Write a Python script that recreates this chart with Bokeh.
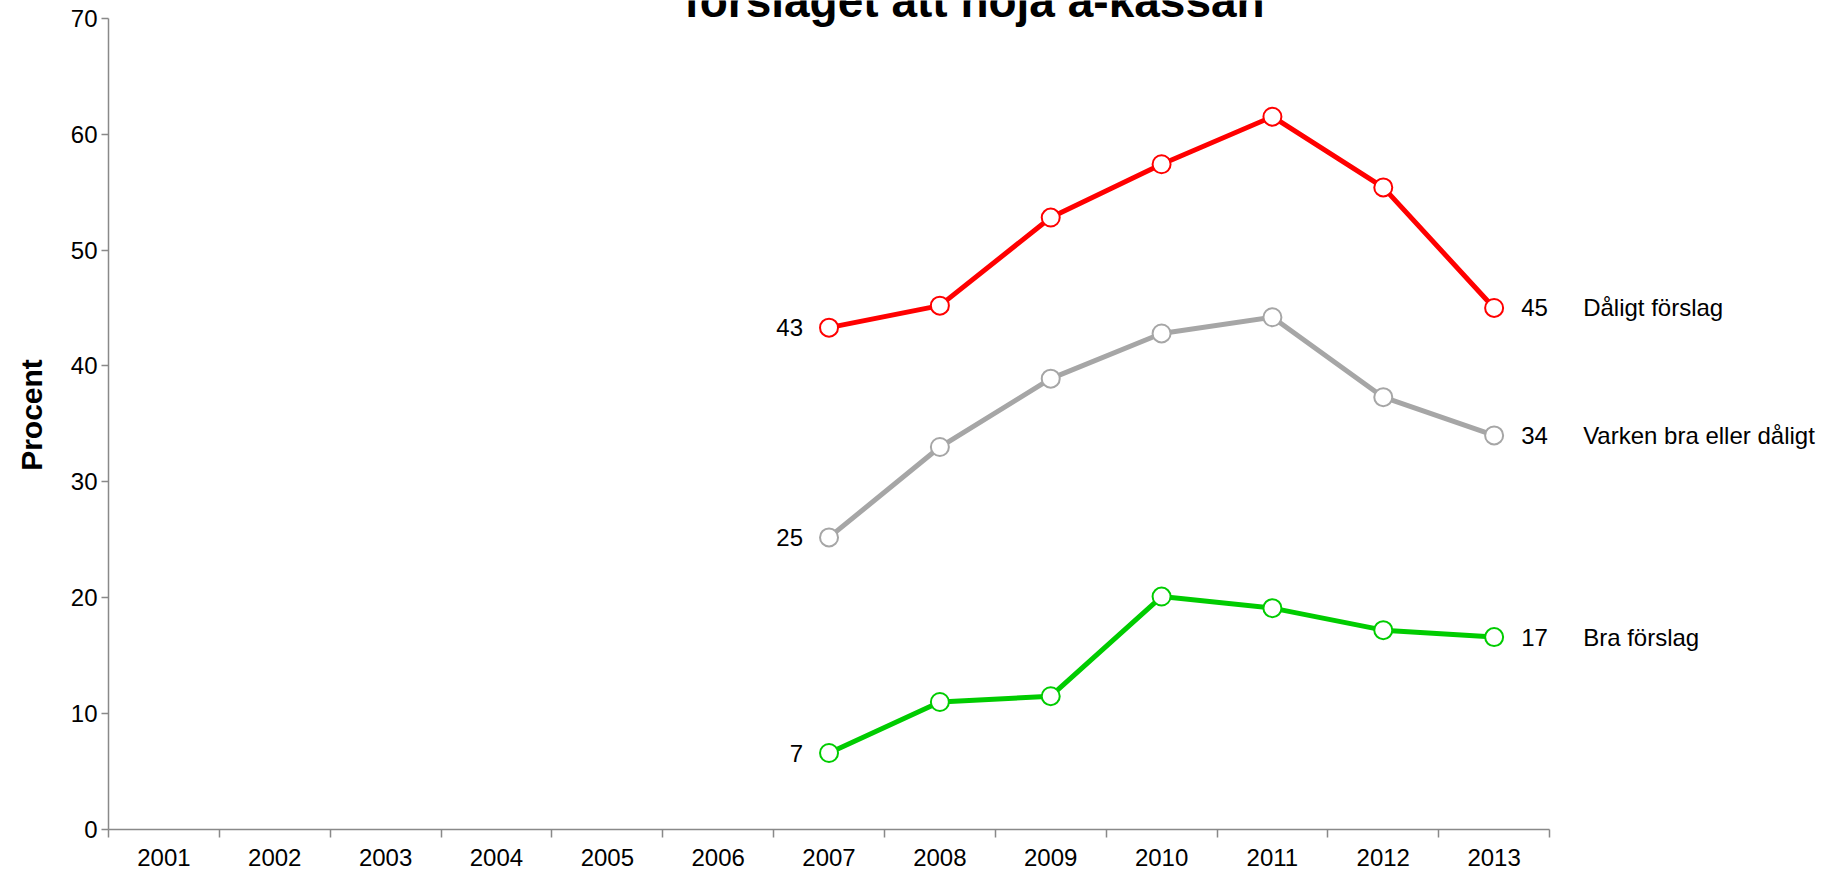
from bokeh.plotting import figure
from bokeh.models import Range1d, FixedTicker, Label, LabelSet, ColumnDataSource
from bokeh.core.properties import value
from bokeh.embed import file_html
from bokeh.resources import INLINE

# ---- data ----
years = [2001, 2002, 2003, 2004, 2005, 2006, 2007, 2008, 2009, 2010, 2011, 2012, 2013]
year_labels = ["2001", "2002", "2003", "2004", "2005", "2006", "2007",
               "2008", "2009", "2010", "2011", "2012", "2013"]
data_years = [2007, 2008, 2009, 2010, 2011, 2012, 2013]
daligt = [43.3, 45.2, 52.8, 57.4, 61.5, 55.4, 45.0]
varken = [25.2, 33.0, 38.9, 42.8, 44.2, 37.3, 34.0]
bra = [6.6, 11.0, 11.5, 20.1, 19.1, 17.2, 16.6]
series_names = ["Dåligt förslag", "Varken bra eller dåligt", "Bra förslag"]
series_colors = ["#FF0000", "#A6A6A6", "#00CC00"]
y_ticks = [0, 10, 20, 30, 40, 50, 60, 70]
title_text = "förslaget att höja a-kassan"
y_title = "Procent"

FONT = "Liberation Sans"

# ---- layout (pixels) ----
W, H = 1829, 874
LEFT, BOTTOM = 108, 45
X_PX_PER_CAT = 110.85
Y_PX_PER_UNIT = 11.59
x0 = years[0] - 0.5
x_end = x0 + (W - LEFT) / X_PX_PER_CAT
y_end = (H - BOTTOM) / Y_PX_PER_UNIT

p = figure(width=W, height=H,
           x_range=Range1d(x0, x_end), y_range=Range1d(0, y_end),
           output_backend="svg", toolbar_location=None,
           min_border_left=LEFT, min_border_right=0,
           min_border_top=0, min_border_bottom=BOTTOM)
p.outline_line_color = None
p.xgrid.visible = False
p.ygrid.visible = False
p.background_fill_color = "white"
p.border_fill_color = "white"

AXIS_COLOR = "#898989"

# x axis: labels at category centres, ticks at category boundaries
xa = p.xaxis[0]
xa.bounds = (years[0] - 0.5, years[-1] + 0.5)
xa.ticker = FixedTicker(ticks=years, minor_ticks=[y - 0.5 for y in years] + [years[-1] + 0.5])
xa.major_label_overrides = {y: l for y, l in zip(years, year_labels)}
xa.major_tick_out = 0
xa.major_tick_in = 0
xa.minor_tick_out = 8
xa.minor_tick_in = 0
xa.minor_tick_line_color = AXIS_COLOR
xa.minor_tick_line_width = 1.5
xa.axis_line_color = AXIS_COLOR
xa.axis_line_width = 1.5
xa.major_label_standoff = 11
xa.major_label_text_font = FONT
xa.major_label_text_font_size = "24px"
xa.major_label_text_color = "black"

ya = p.yaxis[0]
ya.bounds = (y_ticks[0], y_ticks[-1])
ya.ticker = FixedTicker(ticks=y_ticks)
ya.major_tick_out = 7
ya.major_tick_in = 0
ya.minor_tick_out = 0
ya.minor_tick_in = 0
ya.major_tick_line_color = AXIS_COLOR
ya.major_tick_line_width = 1.5
ya.axis_line_color = AXIS_COLOR
ya.axis_line_width = 1.5
ya.major_label_standoff = 4
ya.major_label_text_font = FONT
ya.major_label_text_font_size = "24px"
ya.major_label_text_color = "black"
ya.axis_label = y_title
ya.axis_label_text_font = FONT
ya.axis_label_text_font_size = "30px"
ya.axis_label_text_font_style = "bold"
ya.axis_label_text_color = "black"
ya.axis_label_standoff = 20

all_series = [daligt, varken, bra]
for vals, col in zip(all_series, series_colors):
    p.line(data_years, vals, line_width=5, line_color=col, line_join="round")
    p.scatter(data_years, vals, size=18, fill_color="white", line_color=col, line_width=2)

# data labels
first_src = ColumnDataSource(dict(
    x=[data_years[0]] * 3,
    y=[s[0] for s in all_series],
    t=[str(int(round(s[0]))) for s in all_series]))
last_src = ColumnDataSource(dict(
    x=[data_years[-1]] * 3,
    y=[s[-1] for s in all_series],
    t=[str(int(round(s[-1]))) for s in all_series],
    n=series_names))

common = dict(text_baseline="middle", text_font=value(FONT),
              text_font_size=value("24px"), text_color="black")
p.add_layout(LabelSet(x="x", y="y", text="t", source=first_src, x_offset=-26,
                      text_align="right", **common))
p.add_layout(LabelSet(x="x", y="y", text="t", source=last_src, x_offset=27,
                      text_align="left", **common))
p.add_layout(LabelSet(x="x", y="y", text="n", source=last_src, x_offset=89,
                      text_align="left", **common))

# title (partly cut off at the top, as in the reference)
TITLE_X_PX, TITLE_Y_PX = 974, 0
p.add_layout(Label(x=x0 + (TITLE_X_PX - LEFT) / X_PX_PER_CAT,
                   y=(H - BOTTOM - TITLE_Y_PX) / Y_PX_PER_UNIT,
                   text=title_text, text_align="center",
                   text_baseline="alphabetic", text_font=FONT,
                   text_font_size="46px", text_font_style="bold", text_color="black"))

open("out.html", "w").write(file_html(p, INLINE))
